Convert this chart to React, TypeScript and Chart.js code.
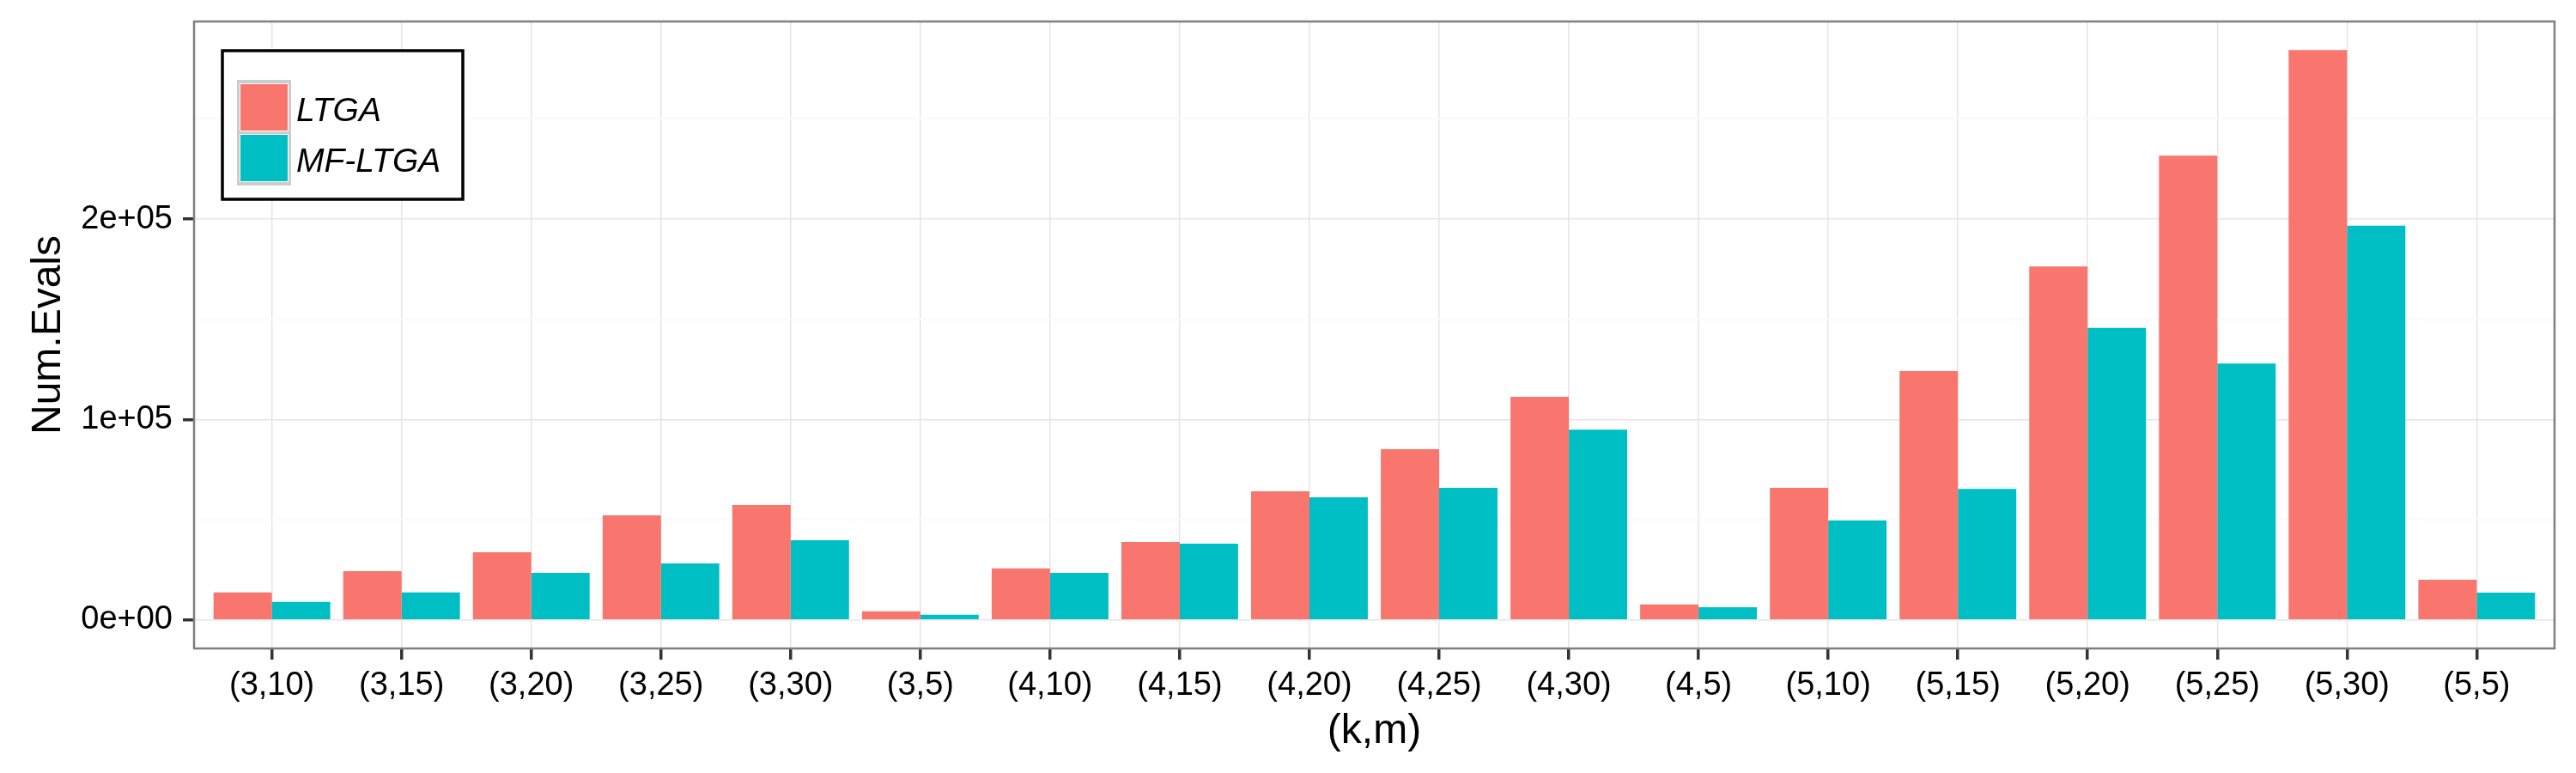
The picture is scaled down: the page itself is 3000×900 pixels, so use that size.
import React, { useEffect, useRef } from "react";
import { Chart, registerables } from "chart.js";

Chart.register(...registerables);

const categories = [
  "(3,10)", "(3,15)", "(3,20)", "(3,25)", "(3,30)", "(3,5)",
  "(4,10)", "(4,15)", "(4,20)", "(4,25)", "(4,30)", "(4,5)",
  "(5,10)", "(5,15)", "(5,20)", "(5,25)", "(5,30)", "(5,5)",
];
const ltgaEvals = [
  13700, 24400, 33800, 52200, 57300, 4300,
  25700, 38900, 64200, 85200, 111300, 7700,
  65900, 124200, 176400, 231700, 284400, 20100,
];
const mfLtgaEvals = [
  9000, 13700, 23500, 28200, 39800, 2600,
  23500, 38100, 61200, 65900, 95000, 6400,
  49600, 65400, 145700, 128000, 196700, 13600,
];
const seriesNames = ["LTGA", "MF-LTGA"];
const seriesColors = ["#F8766D", "#00BFC4"];
const yMajorTicks = [0, 100000, 200000];
const yTickLabels = ["0e+00", "1e+05", "2e+05"];
const yMinorTicks = [50000, 150000, 250000];
const xTitle = "(k,m)";
const yTitle = "Num.Evals";

const FONT = '"Liberation Sans", Arial, Helvetica, sans-serif';

const panelPlugin = {
  id: "ggPanel",
  afterDraw(chart: any) {
    const { ctx, chartArea: a } = chart;
    ctx.save();
    // panel border
    ctx.strokeStyle = "#7F7F7F";
    ctx.lineWidth = 2.5;
    ctx.strokeRect(a.left, a.top, a.right - a.left, a.bottom - a.top);

    // legend box
    const bx = a.left + 33;
    const by = a.top + 34;
    const bw = 280;
    const bh = 173;
    ctx.fillStyle = "#FFFFFF";
    ctx.fillRect(bx, by, bw, bh);
    ctx.strokeStyle = "#000000";
    ctx.lineWidth = 3.5;
    ctx.strokeRect(bx, by, bw, bh);

    const kx = bx + 17;
    const ky = by + 34;
    ctx.fillStyle = "#CCCCCC";
    ctx.fillRect(kx, ky, 63, 123);
    chart.data.datasets.forEach((ds: any, i: number) => {
      const y0 = ky + 4 + i * 59;
      ctx.fillStyle = "#FFFFFF";
      ctx.fillRect(kx + 3, y0, 57, 56);
      ctx.fillStyle = ds.backgroundColor;
      ctx.fillRect(kx + 4, y0 + 1, 55, 54);
      ctx.fillStyle = "#000000";
      ctx.font = `italic 39px ${FONT}`;
      ctx.textBaseline = "alphabetic";
      ctx.textAlign = "left";
      ctx.fillText(ds.label, bx + 86, by + 82 + i * 59);
    });
    ctx.restore();
  },
};

export default function App() {
  const ref = useRef<HTMLCanvasElement | null>(null);

  useEffect(() => {
    document.body.style.margin = "0";
    const canvas = ref.current;
    if (!canvas) return;
    const maxVal = Math.max(...ltgaEvals, ...mfLtgaEvals);
    const n = categories.length;

    const chart = new Chart(canvas, {
      type: "bar",
      data: {
        datasets: [
          {
            label: seriesNames[0],
            data: ltgaEvals.map((v, i) => ({ x: i + 1, y: v })),
            backgroundColor: seriesColors[0],
            borderWidth: 0,
            categoryPercentage: 0.9,
            barPercentage: 1.0,
          },
          {
            label: seriesNames[1],
            data: mfLtgaEvals.map((v, i) => ({ x: i + 1, y: v })),
            backgroundColor: seriesColors[1],
            borderWidth: 0,
            categoryPercentage: 0.9,
            barPercentage: 1.0,
          },
        ],
      },
      options: {
        animation: false,
        responsive: false,
        devicePixelRatio: 1,
        layout: { padding: { top: 25, right: 25, left: 0, bottom: 0 } },
        plugins: {
          legend: { display: false },
          tooltip: { enabled: false },
        },
        scales: {
          x: {
            type: "linear",
            min: 0.4,
            max: n + 0.6,
            offset: false,
            afterBuildTicks: (s: any) => {
              s.ticks = categories.map((_, i) => ({ value: i + 1 }));
            },
            afterFit: (s: any) => {
              s.height = 145;
              s.paddingLeft = 0;
              s.paddingRight = 0;
            },
            ticks: {
              autoSkip: false,
              maxRotation: 0,
              minRotation: 0,
              padding: 8,
              color: "#000000",
              font: { family: FONT, size: 38 },
              callback: (v: any) => categories[Math.round(Number(v)) - 1] ?? "",
            },
            grid: {
              offset: false,
              color: "#E5E5E5",
              lineWidth: 1.5,
              drawTicks: true,
              tickLength: 13,
              tickWidth: 3.5,
              tickColor: "#333333",
            },
            border: { display: false },
            title: {
              display: true,
              text: xTitle,
              color: "#000000",
              font: { family: FONT, size: 48 },
              padding: { top: 0, bottom: 19 },
            },
          },
          y: {
            type: "linear",
            min: -0.05 * maxVal,
            max: 1.05 * maxVal,
            afterBuildTicks: (s: any) => {
              s.ticks = [...yMajorTicks, ...yMinorTicks]
                .sort((a, b) => a - b)
                .map((v) => ({ value: v }));
            },
            afterFit: (s: any) => {
              s.width = 226;
              s.paddingTop = 0;
              s.paddingBottom = 0;
            },
            ticks: {
              padding: 12,
              color: "#000000",
              font: { family: FONT, size: 38 },
              callback: (v: any) => {
                const i = yMajorTicks.indexOf(Number(v));
                return i >= 0 ? yTickLabels[i] : "";
              },
            },
            grid: {
              color: (c: any) =>
                c.tick && yMinorTicks.includes(c.tick.value) ? "#FAFAFA" : "#E5E5E5",
              lineWidth: (c: any) =>
                c.tick && yMinorTicks.includes(c.tick.value) ? 2 : 1.5,
              drawTicks: true,
              tickLength: 13,
              tickWidth: 3.5,
              tickColor: (c: any) =>
                c.tick && yMinorTicks.includes(c.tick.value) ? "rgba(0,0,0,0)" : "#333333",
            },
            border: { display: false },
            title: {
              display: true,
              text: yTitle,
              color: "#000000",
              font: { family: FONT, size: 48 },
              padding: { top: 28, bottom: 0 },
            },
          },
        },
      } as any,
      plugins: [panelPlugin],
    });

    return () => chart.destroy();
  }, []);

  return (
    <div style={{ width: 3000, height: 900 }}>
      <canvas ref={ref} width={3000} height={900} style={{ display: "block" }} />
    </div>
  );
}
